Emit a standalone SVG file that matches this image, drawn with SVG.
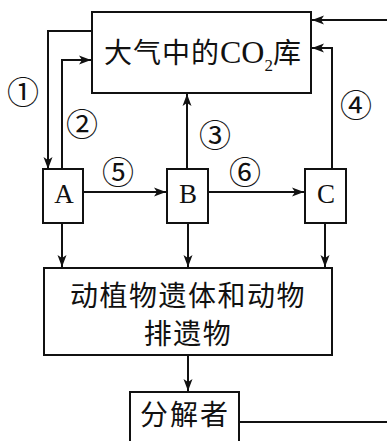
<svg xmlns="http://www.w3.org/2000/svg" width="387" height="441" viewBox="0 0 387 441">
<defs>
<style>
.box{fill:#fff;stroke:#111;stroke-width:2}
.ln{fill:none;stroke:#111;stroke-width:2}
.cjk{font-family:"Noto Sans CJK SC","Noto Sans CJK JP",sans-serif;fill:#111}
.lat{font-family:"Liberation Serif",serif;fill:#111}
.num{font-family:"Noto Sans CJK SC","DejaVu Sans",sans-serif;font-size:32px;fill:#111;text-anchor:middle;dominant-baseline:central}
</style>
<marker id="ah" viewBox="0 0 12 10" refX="12" refY="5" markerWidth="12" markerHeight="10" markerUnits="userSpaceOnUse" orient="auto">
<path d="M0,0.5 L12,5 L0,9.5 L3,5 Z" fill="#111"/>
</marker>
</defs>
<rect width="387" height="441" fill="#fff"/>
<g id="connectors">
<path class="ln" d="M92,31 H48 V169" marker-end="url(#ah)"/>
<path class="ln" d="M62,169 V60 H91" marker-end="url(#ah)"/>
<path class="ln" d="M187,169 V94" marker-end="url(#ah)"/>
<path class="ln" d="M332,169 V48 H312" marker-end="url(#ah)"/>
<path class="ln" d="M387,20 H312" marker-end="url(#ah)"/>
<path class="ln" d="M83,192 H166" marker-end="url(#ah)"/>
<path class="ln" d="M208,192 H304" marker-end="url(#ah)"/>
<path class="ln" d="M62,223 V267" marker-end="url(#ah)"/>
<path class="ln" d="M188,223 V267" marker-end="url(#ah)"/>
<path class="ln" d="M325,223 V267" marker-end="url(#ah)"/>
<path class="ln" d="M188,355 V391" marker-end="url(#ah)"/>
<path class="ln" d="M239,422 H387"/>
<text class="num" x="23" y="90">①</text>
<text class="num" x="82" y="122">②</text>
<text class="num" x="215" y="133">③</text>
<text class="num" x="356" y="103">④</text>
<text class="num" x="118" y="170">⑤</text>
<text class="num" x="245" y="170">⑥</text>
</g>
<g id="co2">
<rect class="box" x="92" y="12" width="219" height="81"/>
<text y="63"><tspan class="cjk" x="104" font-size="28" letter-spacing="1">大气中的</tspan><tspan class="lat" font-size="32">CO</tspan><tspan class="lat" font-size="17" dy="8">2</tspan><tspan class="cjk" font-size="28" dy="-8">库</tspan></text>
</g>
<g id="A">
<rect class="box" x="43" y="169" width="40" height="54"/>
<text class="lat" x="64" y="203" font-size="27" text-anchor="middle">A</text>
</g>
<g id="B">
<rect class="box" x="167" y="169" width="41" height="54"/>
<text class="lat" x="188" y="203" font-size="27" text-anchor="middle">B</text>
</g>
<g id="C">
<rect class="box" x="305" y="169" width="41" height="54"/>
<text class="lat" x="326" y="203" font-size="27" text-anchor="middle">C</text>
</g>
<g id="remains">
<rect class="box" x="44" y="268" width="288" height="87"/>
<text class="cjk" x="188" y="306" font-size="28" letter-spacing="1.5" text-anchor="middle">动植物遗体和动物</text>
<text class="cjk" x="188" y="344" font-size="28" letter-spacing="1.5" text-anchor="middle">排遗物</text>
</g>
<g id="decomposer">
<rect class="box" x="130" y="392" width="109" height="60"/>
<text class="cjk" x="185" y="425" font-size="28" letter-spacing="2" text-anchor="middle">分解者</text>
</g>
</svg>
